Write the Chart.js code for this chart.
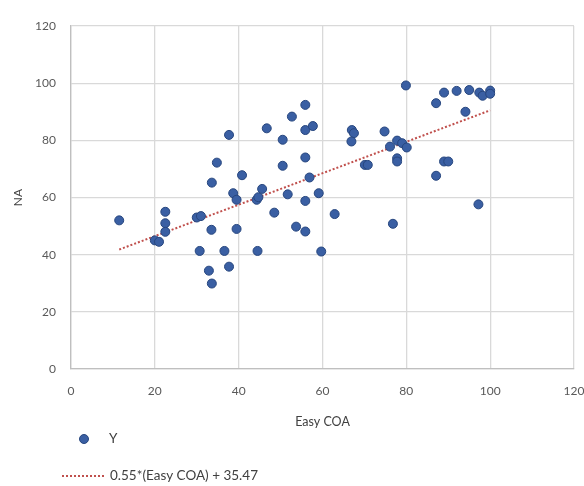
<!DOCTYPE html>
<html>
<head>
<meta charset="utf-8">
<script src="https://cdn.jsdelivr.net/npm/chart.js@4/dist/chart.umd.min.js"></script>
<style>
  html, body { margin: 0; padding: 0; background: #fff; }
  #wrap { width: 584px; height: 486px; }
</style>
</head>
<body>
<div id="wrap"><canvas id="chart" width="584" height="486"></canvas></div>
<script>
// values
const easyCOA = [11.5, 20, 21, 22.5, 22.5, 22.5, 30, 31, 33.5, 39.5, 30.7, 36.6, 44.5, 37.7, 32.9, 33.6, 33.6, 38.7, 39.5, 44.3,
  37.7, 34.8, 40.8, 79.9, 55.9, 52.7, 46.7, 55.9, 57.7, 50.5, 67, 67.5, 66.9, 74.8, 76.1, 77.8, 79, 80.1, 77.8, 77.8,
  55.9, 50.5, 56.9, 70.1, 70.8, 45.6, 44.7, 51.7, 59.1, 55.9, 48.5, 62.9, 53.7, 55.9, 76.8, 59.7, 89, 92, 95, 97.4,
  98.2, 100, 100, 87.1, 94.1, 89, 90, 87.1, 97.2];
const na = [52, 45, 44.5, 55, 51, 48, 53, 53.5, 48.7, 49, 41.3, 41.3, 41.3, 35.8, 34.4, 29.9, 65.2, 61.5, 59.2, 59.2,
  81.9, 72.2, 67.8, 99.2, 92.4, 88.3, 84.2, 83.6, 85, 80.2, 83.6, 82.5, 79.6, 83.1, 77.8, 79.9, 79, 77.5, 73.7, 72.6,
  74, 71.1, 67, 71.4, 71.4, 63, 60.1, 61.1, 61.5, 58.8, 54.7, 54.2, 49.8, 48.1, 50.8, 41.1, 96.7, 97.3, 97.6, 96.7,
  95.6, 97.4, 96.3, 93, 90, 72.6, 72.6, 67.6, 57.6];
const trendX = [11.5, 100];
const trendY = [41.8, 90.5];
const axisTicks = [0, 20, 40, 60, 80, 100, 120];
const seriesName = 'Y';
const trendName = '0.55*(Easy COA) + 35.47';

const FONT = 'Lato, "Open Sans", sans-serif';
const dotFill = '#3a5fa3', dotEdge = '#27467e', trendColor = '#c0504d';

const points = easyCOA.map((x, i) => ({ x, y: na[i] }));
const trend = trendX.map((x, i) => ({ x, y: trendY[i] }));

// legend stacked under the plot, drawn by hand
const stackedLegend = {
  id: 'stackedLegend',
  afterDraw(chart) {
    const ctx = chart.ctx;
    ctx.save();
    ctx.font = '13.5px ' + FONT;
    ctx.textBaseline = 'middle';
    ctx.beginPath();
    ctx.arc(84, 439, 4.5, 0, Math.PI * 2);
    ctx.fillStyle = dotFill;
    ctx.fill();
    ctx.strokeStyle = dotEdge;
    ctx.lineWidth = 1;
    ctx.stroke();
    ctx.fillStyle = '#404040';
    ctx.fillText(seriesName, 109, 439);
    ctx.beginPath();
    ctx.setLineDash([2, 2]);
    ctx.strokeStyle = trendColor;
    ctx.lineWidth = 2;
    ctx.moveTo(62, 476);
    ctx.lineTo(106, 476);
    ctx.stroke();
    ctx.setLineDash([]);
    ctx.fillText(trendName, 110, 476);
    ctx.restore();
  }
};

new Chart(document.getElementById('chart'), {
  type: 'scatter',
  data: {
    datasets: [
      { label: seriesName, data: points, backgroundColor: dotFill, borderColor: dotEdge, borderWidth: 1, pointRadius: 4.5, pointHoverRadius: 4.5 },
      { type: 'line', label: trendName, data: trend, borderColor: trendColor, borderWidth: 2, borderDash: [2, 2], pointRadius: 0, fill: false }
    ]
  },
  options: {
    responsive: false,
    animation: false,
    layout: { padding: { top: 26, right: 10, bottom: 56, left: 0 } },
    plugins: { legend: { display: false }, tooltip: { enabled: false } },
    scales: {
      x: {
        type: 'linear', min: 0, max: 120,
        afterBuildTicks: s => { s.ticks = axisTicks.map(v => ({ value: v })); },
        afterFit: s => { s.height = 61; s.paddingLeft = 0; s.paddingRight = 0; },
        grid: { color: '#d9d9d9', lineWidth: 1.3, drawTicks: false },
        border: { color: '#bfbfbf', width: 1.3 },
        ticks: { padding: 15, color: '#595959', font: { family: FONT, size: 12 } },
        title: { display: true, text: 'Easy COA', color: '#404040', padding: { top: 0, bottom: 1 }, font: { family: FONT, size: 12.5 } }
      },
      y: {
        type: 'linear', min: 0, max: 120,
        afterBuildTicks: s => { s.ticks = axisTicks.map(v => ({ value: v })); },
        afterFit: s => { s.width = 71; },
        grid: { color: '#d9d9d9', lineWidth: 1.3, drawTicks: false },
        border: { color: '#bfbfbf', width: 1.3 },
        ticks: { padding: 15, color: '#595959', font: { family: FONT, size: 12 } },
        title: { display: true, text: 'NA', color: '#404040', padding: { top: 11, bottom: 0 }, font: { family: FONT, size: 12 } }
      }
    }
  },
  plugins: [stackedLegend]
});
</script>
</body>
</html>
